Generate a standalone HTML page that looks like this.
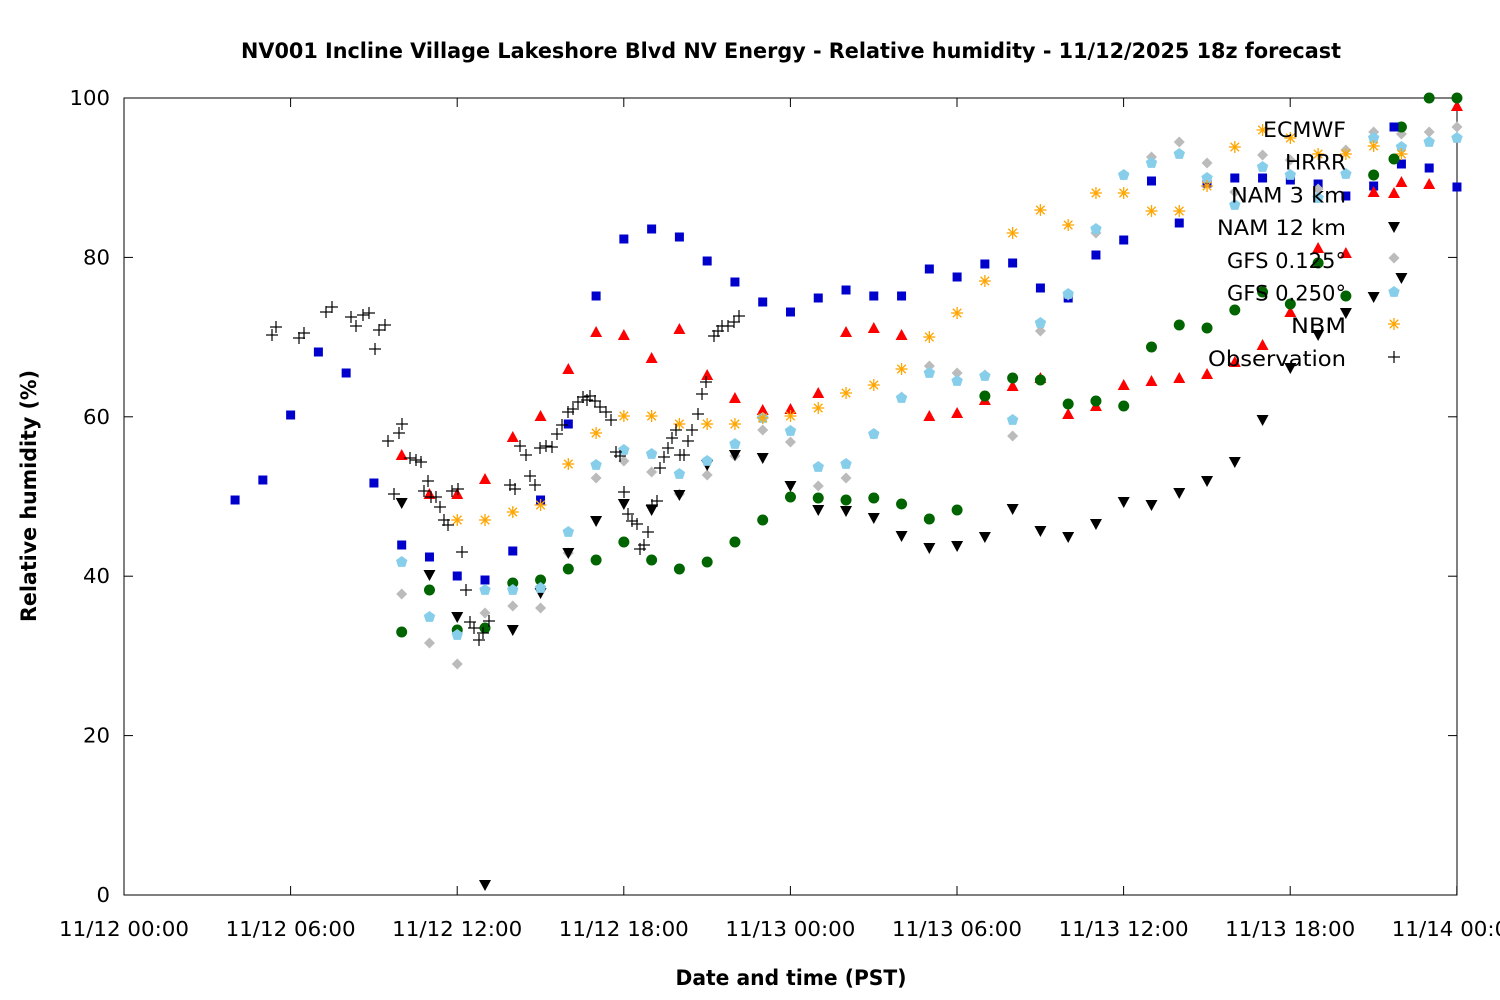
<!DOCTYPE html>
<html><head><meta charset="utf-8"><style>body{margin:0;background:#fff}svg{display:block;font-family:"DejaVu Sans","Liberation Sans",sans-serif}</style></head>
<body>
<svg id="s" width="1500" height="1000" xmlns="http://www.w3.org/2000/svg">
<rect width="1500" height="1000" fill="#fff"/>
<text x="791" y="58" text-anchor="middle" font-size="21" font-weight="bold" textLength="1100" lengthAdjust="spacingAndGlyphs">NV001 Incline Village Lakeshore Blvd NV Energy - Relative humidity - 11/12/2025 18z forecast</text>
<rect x="124" y="98" width="1333" height="797" fill="none" stroke="#000" stroke-width="1"/>
<g id="ax" font-size="20"></g>
<text x="791" y="985" text-anchor="middle" font-size="21" font-weight="bold" textLength="231" lengthAdjust="spacingAndGlyphs">Date and time (PST)</text>
<text transform="translate(36,496) rotate(-90)" text-anchor="middle" font-size="21" font-weight="bold" textLength="252" lengthAdjust="spacingAndGlyphs">Relative humidity (%)</text>
<g id="d"></g>
</svg>
<script>
const NS="http://www.w3.org/2000/svg",ax=document.getElementById('ax'),d=document.getElementById('d');
function el(t,a,p){const e=document.createElementNS(NS,t);for(const k in a)e.setAttribute(k,a[k]);(p||d).appendChild(e);return e;}
for(let i=0;i<=5;i++){const y=895-i*159.4;el('line',{x1:124,x2:133,y1:y,y2:y,stroke:'#000'},ax);el('line',{x1:1448,x2:1457,y1:y,y2:y,stroke:'#000'},ax);
 const s=String(i*20);const t=el('text',{x:110,y:y+7,'text-anchor':'end',textLength:s.length*13.5,lengthAdjust:'spacingAndGlyphs'},ax);t.textContent=s;}
const lab=["11/12 00:00","11/12 06:00","11/12 12:00","11/12 18:00","11/13 00:00","11/13 06:00","11/13 12:00","11/13 18:00","11/14 00:00"];
for(let i=0;i<=8;i++){const x=124+i*166.6;el('line',{x1:x,x2:x,y1:895,y2:886,stroke:'#000'},ax);el('line',{x1:x,x2:x,y1:98,y2:107,stroke:'#000'},ax);
 const t=el('text',{x:x,y:936,'text-anchor':'middle',textLength:130,lengthAdjust:'spacingAndGlyphs'},ax);t.textContent=lab[i];}
function mk(type,x,y){
 if(type=='sq')el('rect',{x:x-4.5,y:y-4.5,width:9,height:9,fill:'#0000cc'});
 else if(type=='tri')el('polygon',{points:`${x},${y-6} ${x-6},${y+5} ${x+6},${y+5}`,fill:'#ff0000'});
 else if(type=='dia')el('polygon',{points:`${x},${y-5.5} ${x+5.5},${y} ${x},${y+5.5} ${x-5.5},${y}`,fill:'#bbbbbb'});
 else if(type=='dtri')el('polygon',{points:`${x},${y+6} ${x-6},${y-5} ${x+6},${y-5}`,fill:'#000'});
 else if(type=='cir')el('circle',{cx:x,cy:y,r:5.5,fill:'#006400'});
 else if(type=='pen'){let p=[];for(let k=0;k<5;k++){const a=-Math.PI/2+k*2*Math.PI/5;p.push((x+6*Math.cos(a))+','+(y+6*Math.sin(a)));}el('polygon',{points:p.join(' '),fill:'#87ceeb'});}
 else if(type=='ast'){for(let k=0;k<4;k++){const a=k*Math.PI/4;el('line',{x1:x-6*Math.cos(a),y1:y-6*Math.sin(a),x2:x+6*Math.cos(a),y2:y+6*Math.sin(a),stroke:'#ffa500','stroke-width':1.3});}}
 else if(type=='plus'){el('line',{x1:x-6,x2:x+6,y1:y,y2:y,stroke:'#000','stroke-width':1.2});el('line',{x1:x,x2:x,y1:y-6,y2:y+6,stroke:'#000','stroke-width':1.2});}
}
const X=h=>124+27.77*h;
function ser(type,h0,ys){ys.forEach((y,i)=>{if(y!=null)mk(type,X(h0+i),y);});}
ser('sq',4,[500,480,415,352,373,483,545,557,576,580,551,500,424,296,239,229,237,261,282,302,312,298,290,296,296,269,277,264,263,288,298,255,240,181,223,183,178,178,180,184,196,186,164,168,187]);
ser('tri',10,[455,494,494,479,437,416,369,332,335,358,329,375,398,410,409,393,332,328,335,416,413,400,386,378,414,406,385,381,378,374,362,345,312,248,253,192,182,184,106]);
ser('dia',10,[594,643,664,613,606,608,553,478,461,472,494,475,456,430,442,486,478,434,397,366,373,375,436,331,295,233,175,157,142,163,192,155,160,189,150,132,134,132,127]);
ser('dtri',10,[503,575,617,885,630,593,553,521,504,510,495,465,455,458,486,510,511,518,536,548,546,537,509,531,537,524,502,505,493,481,462,420,368,335,313,297,278]);
ser('cir',10,[632,590,630,628,583,580,569,560,542,560,569,562,542,520,497,498,500,498,504,519,510,396,378,380,404,401,406,347,325,328,310,292,304,263,296,175,127,98,98]);
ser('pen',10,[562,617,635,590,590,588,532,465,450,454,474,461,444,418,431,467,464,434,398,373,381,376,420,323,294,229,175,163,154,178,205,167,175,198,174,138,147,142,138]);
ser('ast',12,[520,520,512,505,464,433,416,416,424,424,424,418,416,408,393,385,369,337,313,281,233,210,225,193,193,211,211,186,147,130,138,154,154,146,154]);
[[272,335],[276,327],[299,338],[304,333],[326,312],[332,307],[351,317],[356,326],[363,315],[369,313],[375,349],[379,330],[385,325],[388,441],[394,494],[399,433],[402,424],[410,458],[416,460],[421,462],[424,491],[428,481],[431,497],[436,497],[440,507],[444,520],[448,525],[452,491],[458,489],[462,552],[466,590],[470,622],[474,628],[479,640],[483,633],[489,621],[510,485],[515,489],[520,446],[526,455],[530,476],[535,485],[540,448],[546,446],[552,447],[557,434],[562,425],[568,412],[573,409],[578,402],[583,397],[587,400],[590,396],[595,401],[600,407],[606,412],[611,420],[616,452],[620,456],[624,492],[628,514],[632,521],[637,524],[640,549],[644,545],[648,532],[652,505],[657,501],[660,468],[664,457],[668,448],[672,438],[676,430],[680,455],[684,455],[688,441],[692,430],[698,414],[702,394],[706,382],[714,336],[718,331],[722,326],[728,326],[734,322],[739,316]].forEach(p=>mk('plus',p[0],p[1]));
const leg=[["ECMWF",83,'sq',127],["HRRR",61,'cir',159],["NAM 3 km",115,'tri',193],["NAM 12 km",129,'dtri',227],["GFS 0.125°",119,'dia',258],["GFS 0.250°",119,'pen',292],["NBM",55,'ast',324],["Observation",138,'plus',357]];
leg.forEach((l,i)=>{const y=129+i*32.7;const t=el('text',{x:1346,y:y+8,'text-anchor':'end','font-size':21,textLength:l[1],lengthAdjust:'spacingAndGlyphs'});t.textContent=l[0];mk(l[2],1394,l[3]);});
</script>
</body></html>
